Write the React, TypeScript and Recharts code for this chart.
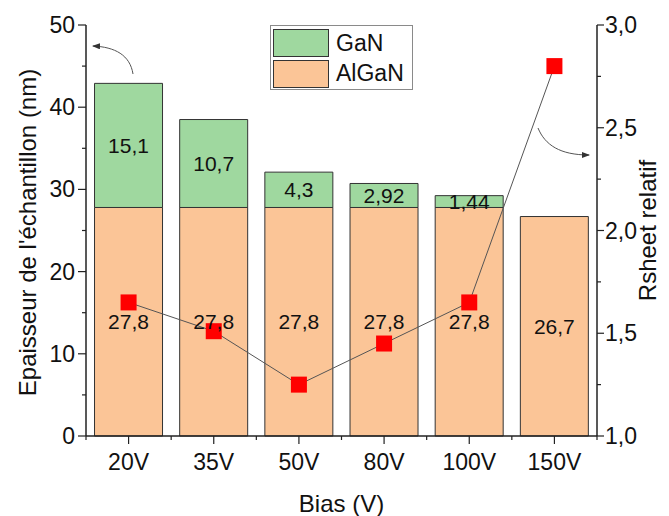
import { ComposedChart, Bar, Line, XAxis, YAxis, LabelList, Label } from 'recharts';

document.body.style.margin = '0';

const biasLabels = ['20V', '35V', '50V', '80V', '100V', '150V'];
const alganThickness = [27.8, 27.8, 27.8, 27.8, 27.8, 26.7];
const ganThickness = [15.1, 10.7, 4.3, 2.92, 1.44, null];
const rsheetRelative = [1.65, 1.51, 1.25, 1.45, 1.65, 2.8];

const leftTicks = [0, 5, 10, 15, 20, 25, 30, 35, 40, 45, 50];
const rightTicks = [1, 1.25, 1.5, 1.75, 2, 2.25, 2.5, 2.75, 3];

const data = biasLabels.map((bias, i) => ({
  bias,
  algan: alganThickness[i],
  gan: ganThickness[i],
  rsheet: rsheetRelative[i],
}));

const W = 669;
const H = 516;
const FONT = '"Liberation Sans", Arial, sans-serif';
const GREEN = '#9fd89f';
const ORANGE = '#fbc597';
const AXIS = '#222';
const TICK_SIZE = 8;
const TICK_MARGIN = 2;
const TICK_FONT = 23;
const TITLE_FONT = 24;
// plot area: x 86..597, y 25..436
const PLOT_W = 511;
const BAND = PLOT_W / biasLabels.length;

const comma = (v: any) => (v == null ? '' : String(v).replace('.', ','));

function LeftTick({ x, y, payload }: any) {
  const axisX = x + TICK_SIZE + TICK_MARGIN;
  const major = payload.value % 10 === 0;
  return (
    <g>
      <line x1={axisX - (major ? 8 : 4)} x2={axisX} y1={y} y2={y} stroke={AXIS} strokeWidth={1.2} />
      {major && (
        <text x={x - 1} y={y} textAnchor="end" dominantBaseline="central" fontSize={TICK_FONT} fontFamily={FONT} fill="#111">
          {payload.value}
        </text>
      )}
    </g>
  );
}

function RightTick({ x, y, payload }: any) {
  const axisX = x - TICK_SIZE - TICK_MARGIN;
  const major = Math.abs(payload.value * 2 - Math.round(payload.value * 2)) < 1e-6;
  return (
    <g>
      <line x1={axisX} x2={axisX + (major ? 7 : 4)} y1={y} y2={y} stroke={AXIS} strokeWidth={1.2} />
      {major && (
        <text x={x - 2} y={y} textAnchor="start" dominantBaseline="central" fontSize={TICK_FONT} fontFamily={FONT} fill="#111">
          {payload.value.toFixed(1).replace('.', ',')}
        </text>
      )}
    </g>
  );
}

function BottomTick({ x, y, payload, index }: any) {
  const axisY = y - TICK_SIZE - TICK_MARGIN;
  return (
    <g>
      <line x1={x} x2={x} y1={axisY} y2={axisY + 8} stroke={AXIS} strokeWidth={1.2} />
      {index === 0 && <line x1={x - BAND / 2} x2={x - BAND / 2} y1={axisY} y2={axisY + 4} stroke={AXIS} strokeWidth={1.2} />}
      <line x1={x + BAND / 2} x2={x + BAND / 2} y1={axisY} y2={axisY + 4} stroke={AXIS} strokeWidth={1.2} />
      <text x={x} y={axisY + 26} textAnchor="middle" dominantBaseline="central" fontSize={TICK_FONT} fontFamily={FONT} fill="#111">
        {payload.value}
      </text>
    </g>
  );
}

const SquareDot = ({ cx, cy, index }: any) =>
  cx == null || cy == null ? null : (
    <rect key={index} x={cx - 8} y={cy - 8} width={16} height={16} fill="#ff0000" />
  );

function LegendBox() {
  const items = [
    { name: 'GaN', color: GREEN },
    { name: 'AlGaN', color: ORANGE },
  ];
  return (
    <div
      style={{
        position: 'absolute',
        left: 270,
        top: 25,
        width: 143,
        height: 65,
        border: '1px solid #8a8a8a',
        background: '#fff',
        fontFamily: FONT,
        fontSize: 23,
        color: '#111',
        padding: '2px 0 0 2px',
        boxSizing: 'border-box',
      }}
    >
      {items.map((it) => (
        <div key={it.name} style={{ display: 'flex', alignItems: 'center', height: 30.5 }}>
          <div style={{ width: 56, height: 28, background: it.color, border: '1px solid #333', boxSizing: 'border-box' }} />
          <span style={{ marginLeft: 7 }}>{it.name}</span>
        </div>
      ))}
    </div>
  );
}

export default function App() {
  return (
    <div style={{ position: 'relative', width: W, height: H, background: '#fff' }}>
      <ComposedChart width={W} height={H} data={data} margin={{ top: 25, right: 0, bottom: 20, left: 0 }}>
        <XAxis
          dataKey="bias"
          height={60}
          axisLine={{ stroke: AXIS, strokeWidth: 1.5 }}
          tickLine={false}
          tickSize={TICK_SIZE}
          tickMargin={TICK_MARGIN}
          tick={<BottomTick />}
          interval={0}
        >
          <Label
            content={(p: any) => {
              const vb = p.viewBox ?? { x: 86, y: 436, width: 511, height: 60 };
              return (
                <text x={vb.x + vb.width / 2} y={vb.y + 67} textAnchor="middle" dominantBaseline="central" fontSize={TITLE_FONT} fontFamily={FONT} fill="#111">
                  Bias (V)
                </text>
              );
            }}
          />
        </XAxis>
        <YAxis
          yAxisId="left"
          width={86}
          domain={[0, 50]}
          ticks={leftTicks}
          interval={0}
          axisLine={{ stroke: AXIS, strokeWidth: 1.5 }}
          tickLine={false}
          tickSize={TICK_SIZE}
          tickMargin={TICK_MARGIN}
          tick={<LeftTick />}
        >
          <Label
            content={(p: any) => {
              const vb = p.viewBox ?? { x: 0, y: 25, width: 86, height: 411 };
              const cx = vb.x + 27;
              const cy = vb.y + vb.height / 2 + 2;
              return (
                <text x={cx} y={cy} transform={`rotate(-90 ${cx} ${cy})`} textAnchor="middle" dominantBaseline="central" fontSize={TITLE_FONT} fontFamily={FONT} fill="#111">
                  Epaisseur de l'échantillon (nm)
                </text>
              );
            }}
          />
        </YAxis>
        <YAxis
          yAxisId="right"
          orientation="right"
          width={72}
          domain={[1, 3]}
          ticks={rightTicks}
          interval={0}
          axisLine={{ stroke: AXIS, strokeWidth: 1.5 }}
          tickLine={false}
          tickSize={TICK_SIZE}
          tickMargin={TICK_MARGIN}
          tick={<RightTick />}
        >
          <Label
            content={(p: any) => {
              const vb = p.viewBox ?? { x: 597, y: 25, width: 72, height: 411 };
              const cx = vb.x + 50;
              const cy = vb.y + vb.height / 2;
              return (
                <text x={cx} y={cy} transform={`rotate(-90 ${cx} ${cy})`} textAnchor="middle" dominantBaseline="central" fontSize={TITLE_FONT} fontFamily={FONT} fill="#111">
                  Rsheet relatif
                </text>
              );
            }}
          />
        </YAxis>
        <Bar yAxisId="left" dataKey="algan" stackId="t" fill={ORANGE} stroke="#333" strokeWidth={1} isAnimationActive={false}>
          <LabelList dataKey="algan" position="center" formatter={comma} fontSize={21} fontFamily={FONT} fill="#111" />
        </Bar>
        <Bar yAxisId="left" dataKey="gan" stackId="t" fill={GREEN} stroke="#333" strokeWidth={1} isAnimationActive={false}>
          <LabelList dataKey="gan" position="center" formatter={comma} fontSize={21} fontFamily={FONT} fill="#111" />
        </Bar>
        <Line
          yAxisId="right"
          dataKey="rsheet"
          stroke="#555"
          strokeWidth={1}
          dot={<SquareDot />}
          activeDot={false}
          isAnimationActive={false}
        />
      </ComposedChart>
      <LegendBox />
      <svg width={W} height={H} style={{ position: 'absolute', left: 0, top: 0, pointerEvents: 'none' }}>
        <defs>
          <marker id="ah" markerWidth="8" markerHeight="6" refX="7" refY="3" orient="auto" markerUnits="userSpaceOnUse">
            <path d="M0,0 L8,3 L0,6 Z" fill="#333" />
          </marker>
        </defs>
        <path d="M133,74 C130,55 115,47 93,46" fill="none" stroke="#555" strokeWidth={1} markerEnd="url(#ah)" />
        <path d="M538,128 C545,145 560,155 589,155" fill="none" stroke="#555" strokeWidth={1} markerEnd="url(#ah)" />
      </svg>
    </div>
  );
}
